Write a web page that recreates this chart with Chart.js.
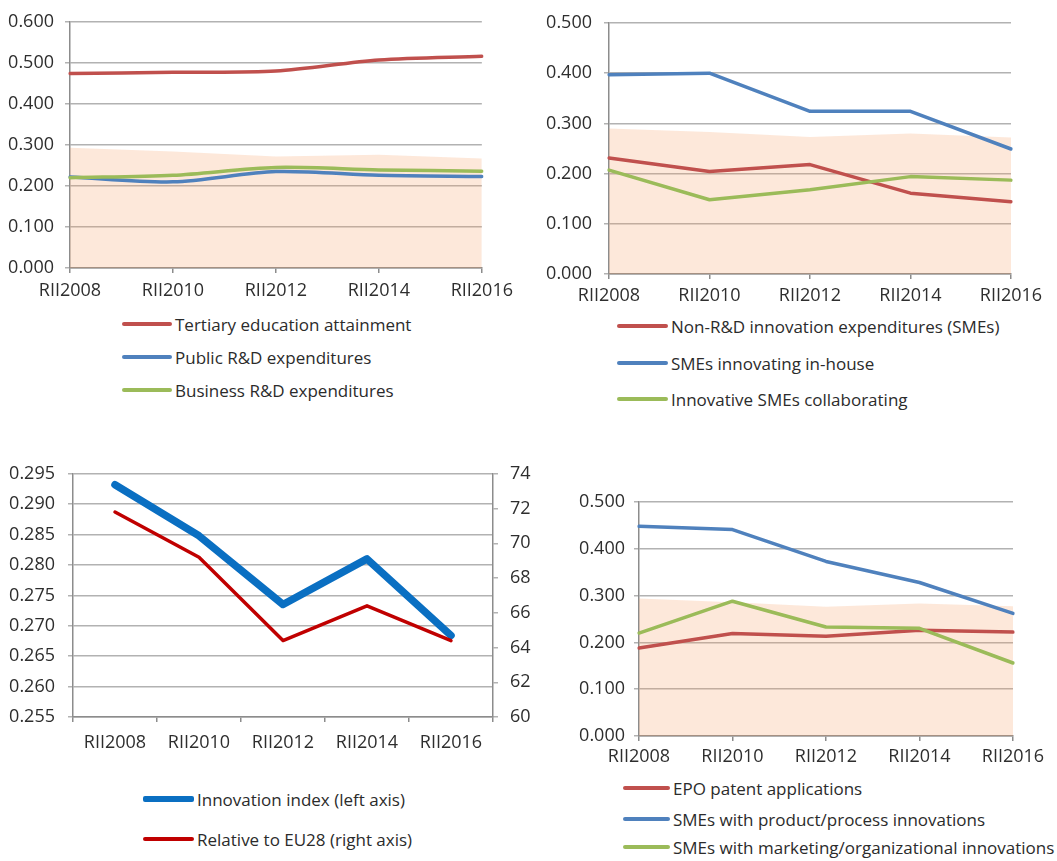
<!DOCTYPE html>
<html>
<head>
<meta charset="utf-8">
<script src="https://cdn.jsdelivr.net/npm/chart.js@4.4.1/dist/chart.umd.min.js"></script>
<style>
  html, body { margin: 0; padding: 0; background: #fff; }
  #page { position: relative; width: 1057px; height: 861px; overflow: hidden; font-family: 'Open Sans', sans-serif; }
  #page canvas { position: absolute; }
  .legend-row { position: absolute; height: 24px; display: flex; align-items: center; font-size: 17px; color: #2b2b2b; white-space: nowrap; }
  .legend-row .swatch { margin-right: 3px; border-radius: 2px; }
</style>
</head>
<body>
<div id="page">
  <canvas id="c1" width="520" height="310" style="left:0px;top:0px"></canvas>
  <canvas id="c2" width="537" height="310" style="left:520px;top:0px"></canvas>
  <canvas id="c3" width="540" height="310" style="left:0px;top:450px"></canvas>
  <canvas id="c4" width="537" height="300" style="left:520px;top:470px"></canvas>
</div>
<script>
// Reporting periods (x axis of every panel)
const periods = ['RII2008', 'RII2010', 'RII2012', 'RII2014', 'RII2016'];

// Panel 1: human resources and R&D spending
const tertiaryEducation = [0.474, 0.477, 0.480, 0.507, 0.516];
const publicRD = [0.222, 0.210, 0.235, 0.226, 0.223];
const businessRD = [0.220, 0.226, 0.245, 0.239, 0.236];
const bandPanel1 = [0.293, 0.284, 0.272, 0.276, 0.267];

// Panel 2: SME innovation activity
const nonRDExpenditures = [0.231, 0.204, 0.218, 0.161, 0.144];
const smesInHouse = [0.397, 0.400, 0.324, 0.324, 0.249];
const smesCollaborating = [0.207, 0.148, 0.168, 0.194, 0.187];
const bandPanel2 = [0.290, 0.283, 0.273, 0.280, 0.272];

// Panel 3: overall index (left axis) and relative score (right axis)
const innovationIndex = [0.2932, 0.2848, 0.2735, 0.2810, 0.2684];
const relativeToEU28 = [71.8, 69.2, 64.4, 66.4, 64.4];

// Panel 4: patents and innovators
const epoPatents = [0.188, 0.219, 0.213, 0.226, 0.222];
const productProcess = [0.448, 0.441, 0.373, 0.328, 0.262];
const marketingOrg = [0.220, 0.288, 0.233, 0.230, 0.156];
const bandPanel4 = [0.294, 0.286, 0.276, 0.283, 0.277];

// Series labels
const labelsPanel1 = ['Tertiary education attainment', 'Public R&D expenditures', 'Business R&D expenditures'];
const labelsPanel2 = ['Non-R&D innovation expenditures (SMEs)', 'SMEs innovating in-house', 'Innovative SMEs collaborating'];
const labelsPanel3 = ['Innovation index (left axis)', 'Relative to EU28 (right axis)'];
const labelsPanel4 = ['EPO patent applications', 'SMEs with product/process innovations', 'SMEs with marketing/organizational innovations'];

// Palette
const RED = '#c0504d', BLUE = '#4f81bd', GREEN = '#9bbb59';
const DEEP_BLUE = '#0a6fc2', DEEP_RED = '#c00000';
const BAND = 'rgba(247,158,100,0.24)';
const GRID = '#b2b2b2', AXIS = '#8c8c8c', TICK_TEXT = '#2e2e2e';
const TICK_FONT = { family: "'Open Sans', sans-serif", size: 18 };

function fixed(d) { return v => Number(v).toFixed(d); }

function yAxis({ position = 'left', min, max, step, width, pad, decimals, grid = true }) {
  return {
    position, min, max,
    ticks: { stepSize: step, padding: pad, color: TICK_TEXT, font: TICK_FONT, callback: fixed(decimals) },
    grid: { color: GRID, lineWidth: 1.5, tickLength: 5, drawOnChartArea: grid, drawTicks: true },
    border: { display: true, color: AXIS, width: 1.5 },
    afterFit: s => { s.width = width; }
  };
}

function xAxis({ height, pad, offset = false }) {
  return {
    type: 'category', offset,
    ticks: { padding: pad, color: TICK_TEXT, font: TICK_FONT, maxRotation: 0, autoSkip: false },
    grid: { color: AXIS, lineWidth: 1.5, tickLength: 5, drawOnChartArea: false, drawTicks: true, offset },
    border: { display: true, color: AXIS, width: 1.5 },
    afterFit: s => { s.height = height; }
  };
}

function series(label, data, color, width, order, extra = {}) {
  return Object.assign({
    label, data, borderColor: color, backgroundColor: color, borderWidth: width,
    pointRadius: 0, pointHoverRadius: 0, fill: false, order,
    borderCapStyle: 'round', borderJoinStyle: 'round', tension: 0
  }, extra);
}

function band(data) {
  return {
    label: '', data, borderWidth: 0, borderColor: 'rgba(0,0,0,0)', backgroundColor: BAND,
    fill: 'origin', pointRadius: 0, order: 10, tension: 0
  };
}

const common = {
  responsive: false, animation: false, events: [],
  plugins: { legend: { display: false }, tooltip: { enabled: false } }
};

function build(id, datasets, scales, padding) {
  return new Chart(document.getElementById(id), {
    type: 'line',
    data: { labels: periods, datasets },
    options: Object.assign({}, common, { layout: { padding }, scales })
  });
}

// Legend drawn as HTML rows under each panel
function legend(x, rows, items) {
  const page = document.getElementById('page');
  items.forEach((it, i) => {
    const row = document.createElement('div');
    row.className = 'legend-row';
    row.style.left = x + 'px';
    row.style.top = (rows[i] - 12) + 'px';
    const sw = document.createElement('span');
    sw.className = 'swatch';
    sw.style.width = it.len + 'px';
    sw.style.height = it.thick + 'px';
    sw.style.background = it.color;
    row.appendChild(sw);
    row.appendChild(document.createTextNode(it.label));
    page.appendChild(row);
  });
}

// Panel 1
build('c1', [
  series(labelsPanel1[0], tertiaryEducation, RED, 3.5, 3, { tension: 0.3 }),
  series(labelsPanel1[1], publicRD, BLUE, 3.5, 2, { tension: 0.3 }),
  series(labelsPanel1[2], businessRD, GREEN, 3.5, 1, { tension: 0.3 }),
  band(bandPanel1)
], {
  x: xAxis({ height: 42, pad: 7 }),
  y: yAxis({ min: 0, max: 0.6, step: 0.1, width: 70, pad: 11, decimals: 3 })
}, { top: 12, right: 37, left: 0, bottom: 0 });

// Panel 2
build('c2', [
  series(labelsPanel2[0], nonRDExpenditures, RED, 3.5, 3),
  series(labelsPanel2[1], smesInHouse, BLUE, 3.5, 2),
  series(labelsPanel2[2], smesCollaborating, GREEN, 3.5, 1),
  band(bandPanel2)
], {
  x: xAxis({ height: 36, pad: 6 }),
  y: yAxis({ min: 0, max: 0.5, step: 0.1, width: 89, pad: 12, decimals: 3 })
}, { top: 23, right: 46, left: 0, bottom: 0 });

// Panel 3 (dual axis)
build('c3', [
  series(labelsPanel3[0], innovationIndex, DEEP_BLUE, 7.5, 2, { yAxisID: 'y' }),
  series(labelsPanel3[1], relativeToEU28, DEEP_RED, 3.5, 1, { yAxisID: 'y2' })
], {
  x: xAxis({ height: 43, pad: 10, offset: true }),
  y: yAxis({ min: 0.255, max: 0.295, step: 0.005, width: 73, pad: 13, decimals: 3 }),
  y2: yAxis({ position: 'right', min: 60, max: 74, step: 2, width: 47, pad: 12, decimals: 0, grid: false })
}, { top: 23, right: 0, left: 0, bottom: 0 });

// Panel 4
build('c4', [
  series(labelsPanel4[0], epoPatents, RED, 3.5, 3),
  series(labelsPanel4[1], productProcess, BLUE, 3.5, 2),
  series(labelsPanel4[2], marketingOrg, GREEN, 3.5, 1),
  band(bandPanel4)
], {
  x: xAxis({ height: 34, pad: 5 }),
  y: yAxis({ min: 0, max: 0.5, step: 0.1, width: 119, pad: 9, decimals: 3 })
}, { top: 32, right: 44, left: 0, bottom: 0 });

legend(122, [324, 357, 390], labelsPanel1.map((l, i) => ({ label: l, color: [RED, BLUE, GREEN][i], len: 50, thick: 4 })));
legend(617, [326, 363, 399], labelsPanel2.map((l, i) => ({ label: l, color: [RED, BLUE, GREEN][i], len: 51, thick: 4 })));
legend(143, [799, 839], labelsPanel3.map((l, i) => ({ label: l, color: [DEEP_BLUE, DEEP_RED][i], len: 51, thick: [6, 4][i] })));
legend(623, [788, 819, 847], labelsPanel4.map((l, i) => ({ label: l, color: [RED, BLUE, GREEN][i], len: 47, thick: 4 })));
</script>
</body>
</html>
